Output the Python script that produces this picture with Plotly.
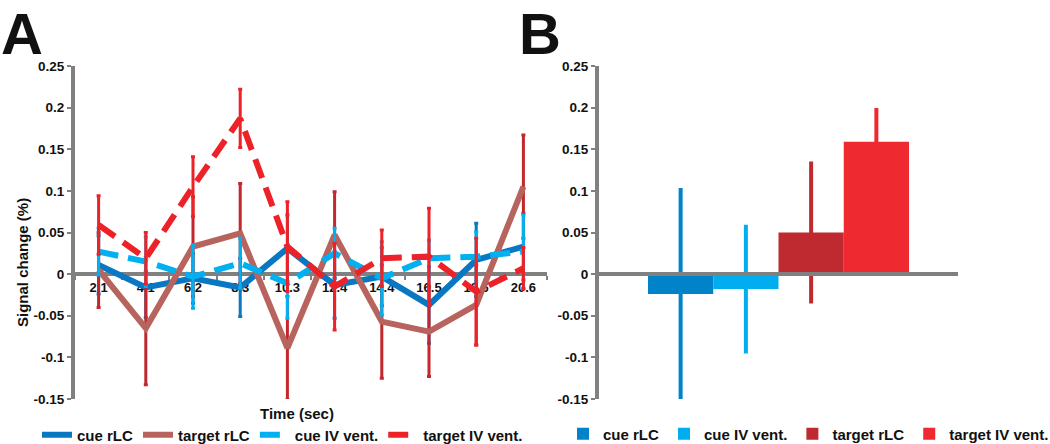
import plotly.graph_objects as go

# ---------------- data ----------------
times = ["2.1", "4.1", "6.2", "8.3", "10.3", "12.4", "14.4", "16.5", "18.6", "20.6"]

cue_rlc = [0.011, -0.016, -0.005, -0.016, 0.031, -0.013, -0.003, -0.037, 0.017, 0.033]
cue_rlc_err = [0.035, 0.036, 0.030, 0.035, 0.040, 0.040, 0.035, 0.046, 0.044, 0.040]

target_rlc = [0.005, -0.065, 0.033, 0.049, -0.089, 0.047, -0.057, -0.069, -0.037, 0.105]
target_rlc_err = [0.045, 0.068, 0.060, 0.060, 0.062, 0.052, 0.068, 0.054, 0.048, 0.062]

cue_iv = [0.027, 0.015, -0.003, 0.013, -0.011, 0.025, -0.005, 0.019, 0.021, 0.027]
cue_iv_err = [0.028, 0.030, 0.038, 0.030, 0.042, 0.030, 0.044, 0.022, 0.030, 0.044]

target_iv = [0.059, 0.019, 0.105, 0.187, 0.033, -0.015, 0.019, 0.021, -0.021, 0.007]
target_iv_err = [0.035, 0.031, 0.036, 0.035, 0.054, 0.052, 0.034, 0.058, 0.064, 0.025]

conditions = ["cue rLC", "cue IV vent.", "target rLC", "target IV vent."]
bar_values = [-0.024, -0.018, 0.050, 0.159]
bar_errors = [0.125, 0.075, 0.083, 0.038]

y_tickvals = [0.25, 0.2, 0.15, 0.1, 0.05, 0, -0.05, -0.1, -0.15]
y_ticktext = ["0.25", "0.2", "0.15", "0.1", "0.05", "0", "-0.05", "-0.1", "-0.15"]

# ---------------- styling ----------------
W, H = 1050, 444
FONT = "Liberation Sans, Arial, sans-serif"
GRAY = "#808080"
TXT = "#111111"

C_CUE_RLC = "#0A77C2"
C_TGT_RLC = "#B8645E"
C_TGT_RLC_ERR = "#C1272D"
C_CUE_IV = "#00B0F0"
C_TGT_IV = "#ED2229"

BAR_COLORS = ["#0083C8", "#00AEEF", "#BE2A30", "#EE2A30"]


def px_x(p):
    return p / W


def px_y(p):
    return 1 - p / H


y_dom = [px_y(399), px_y(66)]
y_range = [-0.15, 0.25]
zero_pos = y_dom[0] + (y_dom[1] - y_dom[0]) * (0 - y_range[0]) / (y_range[1] - y_range[0])

fig = go.Figure()

line_specs = [
    ("cue rLC", cue_rlc, cue_rlc_err, C_CUE_RLC, C_CUE_RLC, "solid"),
    ("target rLC", target_rlc, target_rlc_err, C_TGT_RLC, C_TGT_RLC_ERR, "solid"),
    ("cue IV vent.", cue_iv, cue_iv_err, C_CUE_IV, C_CUE_IV, "20px,10px"),
    ("target IV vent.", target_iv, target_iv_err, C_TGT_IV, C_TGT_IV, "20px,10px"),
]
for name, ys, errs, col, ecol, dash in line_specs:
    fig.add_trace(go.Scatter(
        x=times, y=ys, name=name, mode="lines",
        line=dict(color=col, width=6, dash=dash),
        error_y=dict(type="data", array=errs, visible=True, color=ecol, thickness=3, width=2),
        xaxis="x", yaxis="y", legend="legend",
    ))

for cond, v, e, col in zip(conditions, bar_values, bar_errors, BAR_COLORS):
    fig.add_trace(go.Bar(
        x=["B"], y=[v], name=cond, marker=dict(color=col, line=dict(width=0)),
        error_y=dict(type="data", array=[e], visible=True, color=col, thickness=4, width=2),
        xaxis="x2", yaxis="y2", legend="legend2", offsetgroup=cond,
    ))

tickfont = dict(family=FONT, size=13.5, color=TXT, weight="bold")

yaxis_common = dict(
    domain=y_dom, range=y_range, tickvals=y_tickvals, ticktext=y_ticktext,
    showline=True, linecolor=GRAY, linewidth=4, ticks="outside", ticklen=4,
    tickwidth=2, tickcolor=GRAY, showgrid=False, zeroline=False, tickfont=tickfont,
)

fig.update_layout(
    width=W, height=H,
    margin=dict(l=0, r=0, t=0, b=0, pad=0, autoexpand=False),
    paper_bgcolor="white", plot_bgcolor="white",
    font=dict(family=FONT, color=TXT),
    barmode="group", bargap=0.273, bargroupgap=0,
    xaxis=dict(
        type="category", domain=[px_x(75), px_x(547)], anchor="free", position=zero_pos,
        range=[-0.5, 9.5], showline=True, linecolor=GRAY, linewidth=4,
        ticks="outside", tickson="boundaries", ticklen=4, tickwidth=2, tickcolor=GRAY,
        showgrid=False, zeroline=False, layer="below traces",
        tickfont=dict(family=FONT, size=13, color=TXT, weight="bold"),
    ),
    yaxis=dict(anchor="x", **yaxis_common),
    xaxis2=dict(
        type="category", domain=[px_x(599), px_x(958)], anchor="free", position=zero_pos,
        range=[-0.5, 0.5], showline=True, linecolor=GRAY, linewidth=4,
        ticks="", showticklabels=False, showgrid=False, zeroline=False, layer="above traces",
    ),
    yaxis2=dict(anchor="x2", **yaxis_common),
    legend=dict(
        orientation="h", x=px_x(37), xanchor="left", y=px_y(435), yanchor="middle",
        font=dict(family=FONT, size=15, color=TXT, weight="bold"),
        bgcolor="rgba(0,0,0,0)", itemwidth=30, tracegroupgap=0,
    ),
    legend2=dict(
        orientation="h", x=px_x(563), xanchor="left", y=px_y(434), yanchor="middle",
        font=dict(family=FONT, size=15, color=TXT, weight="bold"),
        bgcolor="rgba(0,0,0,0)", itemwidth=30,
    ),
    showlegend=True,
    annotations=[
        dict(text="A", x=px_x(0), y=1, xref="paper", yref="paper",
             xanchor="left", yanchor="top", showarrow=False, borderpad=0,
             font=dict(family=FONT, size=58, color=TXT, weight="bold")),
        dict(text="B", x=px_x(562), y=1, xref="paper", yref="paper",
             xanchor="right", yanchor="top", showarrow=False, borderpad=0,
             font=dict(family=FONT, size=58, color=TXT, weight="bold")),
        dict(text="Signal change (%)", x=px_x(22), y=px_y(263), xref="paper", yref="paper",
             xanchor="center", yanchor="middle", showarrow=False, textangle=-90,
             font=dict(family=FONT, size=15, color=TXT, weight="bold")),
        dict(text="Time (sec)", x=px_x(297), y=px_y(413), xref="paper", yref="paper",
             xanchor="center", yanchor="middle", showarrow=False,
             font=dict(family=FONT, size=15, color=TXT, weight="bold")),
    ],
)

fig.write_html(
    "out.html",
    config=dict(displayModeBar=False),
    post_script="document.body.style.margin='0px';document.body.style.overflow='hidden';",
)
